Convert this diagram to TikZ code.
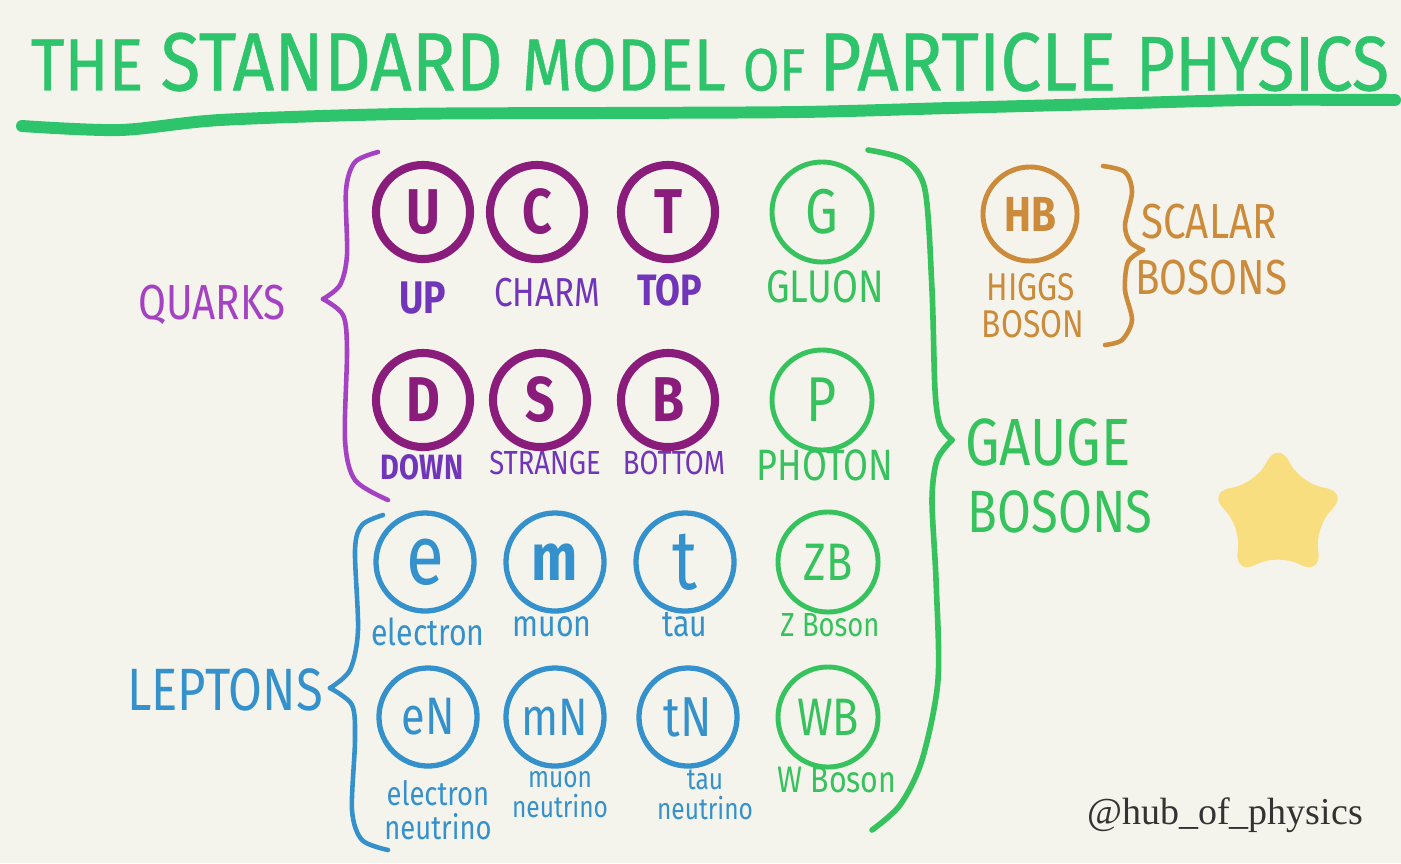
\documentclass[tikz,border=0pt]{standalone}
\usepackage{fontspec}
\newfontfamily\hand[FakeStretch=0.82]{Fira Sans}
\newfontfamily\titlehand[FakeStretch=0.88,FakeBold=0.6]{Fira Sans}
\newfontfamily\tagfont{Liberation Serif}
\usetikzlibrary{shapes.geometric,positioning}
\definecolor{paper}{HTML}{F5F4EC}
\definecolor{titlegreen}{HTML}{2EC46C}
\definecolor{gaugegreen}{HTML}{36C25C}
\definecolor{quarkring}{HTML}{8A1C7C}
\definecolor{quarklbl}{HTML}{7035B8}
\definecolor{quarkbrace}{HTML}{A542C4}
\definecolor{leptonblue}{HTML}{3491CC}
\definecolor{higgsorange}{HTML}{CB8B3A}
\definecolor{staryellow}{HTML}{F8DE7E}

\begin{document}
\begin{tikzpicture}[
  x=0.01cm, y=-0.01cm,
  quark/.style={draw=quarkring, line width=2.3pt, circle, minimum size=0.94cm, inner sep=0pt,
    text=quarkring, font=\hand\bfseries\fontsize{18}{18}\selectfont},
  lepton/.style={draw=leptonblue, line width=1.5pt, circle, minimum size=0.98cm, inner sep=0pt,
    text=leptonblue, font=\hand\fontsize{19}{19}\selectfont},
  gauge/.style={draw=gaugegreen, line width=1.4pt, circle, minimum size=1.0cm, inner sep=0pt,
    text=gaugegreen, font=\hand\fontsize{18}{18}\selectfont},
  qlbl/.style={text=quarklbl, font=\hand\fontsize{11.5}{11}\selectfont},
  llbl/.style={text=leptonblue, align=center, inner sep=1pt, font=\hand\fontsize{10.5}{10}\selectfont},
  glbl/.style={text=gaugegreen, font=\hand\fontsize{13}{13}\selectfont},
  hlbl/.style={text=higgsorange, align=center, inner sep=1pt, font=\hand\fontsize{11}{11}\selectfont},
  brace/.style={line width=1.3pt, line cap=round, line join=round}
]
\useasboundingbox (0,0) rectangle (1401,863);
\fill[paper] (0,0) rectangle (1401,863);

% title
\node[text=titlegreen, font=\titlehand] (title) at (710,62)
  {\fontsize{21}{20}\selectfont THE \fontsize{23.5}{20}\selectfont STANDARD
   \fontsize{21}{20}\selectfont MODEL \fontsize{17}{20}\selectfont OF
   \fontsize{23.5}{20}\selectfont PARTICLE \fontsize{22}{20}\selectfont PHYSICS};
\draw[titlegreen, line width=3.4pt, line cap=round] plot[smooth] coordinates
  {(22,126) (120,130) (220,120) (400,114) (600,113) (800,112) (950,108) (1100,104) (1250,100) (1395,100)};

% quarks
\node[quark] (up) at (423,212) {U};
\node[quark] (charm) at (537,212) {C};
\node[quark] (top) at (668,212) {T};
\node[quark] (down) at (423,400) {D};
\node[quark] (strange) at (540,400) {S};
\node[quark] (bottom) at (668,400) {B};
\node[qlbl, font=\hand\bfseries\fontsize{13}{13}\selectfont] at (423,298) {UP};
\node[qlbl] at (547,293) {CHARM};
\node[qlbl, font=\hand\bfseries\fontsize{12.5}{12}\selectfont] at (670,290) {TOP};
\node[qlbl, font=\hand\bfseries\fontsize{10}{10}\selectfont] at (422,467) {DOWN};
\node[qlbl, font=\hand\fontsize{9.5}{9}\selectfont] at (545,463) {STRANGE};
\node[qlbl, font=\hand\fontsize{9.5}{9}\selectfont] at (674,463) {BOTTOM};

% leptons
\node[lepton, font=\hand\fontsize{24}{24}\selectfont] (electron) at (425,562) {e};
\node[lepton, font=\hand\bfseries\fontsize{19}{19}\selectfont] (muon) at (555,562) {m};
\node[lepton, font=\hand\fontsize{24}{24}\selectfont] (tau) at (685,562) {t};
\node[lepton, font=\hand\fontsize{15}{15}\selectfont] (enu) at (428,717) {eN};
\node[lepton, font=\hand\fontsize{15}{15}\selectfont] (munu) at (555,717) {mN};
\node[lepton, font=\hand\fontsize{16}{16}\selectfont] (taunu) at (688,717) {tN};
\node[llbl] at (428,632) {electron};
\node[llbl] at (552,627) {muon};
\node[llbl] at (685,625) {tau};
\node[llbl, font=\hand\fontsize{9.5}{9.5}\selectfont] at (438,810) {electron\\neutrino};
\node[llbl, font=\hand\fontsize{8.5}{8.5}\selectfont] at (560,795) {muon\\neutrino};
\node[llbl, font=\hand\fontsize{8.5}{8.5}\selectfont] at (705,795) {tau\\neutrino};

% gauge bosons
\node[gauge] (gluon) at (822,212) {G};
\node[gauge] (photon) at (822,400) {P};
\node[gauge, font=\hand\fontsize{15}{15}\selectfont] (zboson) at (828,562) {ZB};
\node[gauge, font=\hand\fontsize{15}{15}\selectfont] (wboson) at (828,717) {WB};
\node[glbl] at (825,287) {GLUON};
\node[glbl, font=\hand\fontsize{12.5}{12}\selectfont] at (825,465) {PHOTON};
\node[glbl, font=\hand\fontsize{9.5}{9.5}\selectfont] at (830,625) {Z Boson};
\node[glbl, font=\hand\fontsize{10.5}{10.5}\selectfont] at (837,780) {W Boson};

% higgs
\node[draw=higgsorange, line width=1.4pt, circle, minimum size=0.94cm, inner sep=0pt,
  text=higgsorange, font=\hand\bfseries\fontsize{14}{14}\selectfont] (higgs) at (1030,214) {HB};
\node[hlbl] at (1031,287) {HIGGS};
\node[hlbl] at (1033,324) {BOSON};
\node[hlbl, font=\hand\fontsize{14}{14}\selectfont] (scalar) at (1209,222) {SCALAR};
\node[hlbl, font=\hand\fontsize{14}{14}\selectfont] (scalarb) at (1211,278) {BOSONS};

% group labels
\node[text=quarkbrace, font=\hand\fontsize{14}{14}\selectfont] (quarks) at (212,305) {QUARKS};
\node[text=leptonblue, font=\hand\fontsize{17}{17}\selectfont] (leptons) at (225,690) {LEPTONS};
\node[text=gaugegreen, font=\hand\fontsize{19}{19}\selectfont] (gauge) at (1048,442) {GAUGE};
\node[text=gaugegreen, font=\hand\fontsize{17}{17}\selectfont] (gaugeb) at (1060,512) {BOSONS};

% braces
\draw[brace, quarkbrace] plot[smooth] coordinates {(378,152) (355,162) (346,190) (347,255) (340,285) (323,299)};
\draw[brace, quarkbrace] plot[smooth] coordinates {(323,299) (343,315) (347,350) (345,440) (355,480) (388,500)};
\draw[brace, leptonblue] plot[smooth] coordinates {(383,515) (362,525) (355,550) (358,630) (350,670) (330,688)};
\draw[brace, leptonblue] plot[smooth] coordinates {(330,688) (352,705) (355,740) (352,810) (362,840) (388,850)};
\draw[brace, gaugegreen, line width=1.6pt] plot[smooth] coordinates
  {(868,150) (905,160) (925,190) (932,290) (935,390) (940,425) (952,440)};
\draw[brace, gaugegreen, line width=1.6pt] plot[smooth] coordinates
  {(952,440) (937,460) (932,500) (936,580) (938,680) (922,760) (900,805) (872,830)};
\draw[brace, higgsorange] plot[smooth] coordinates {(1103,166) (1125,172) (1132,192) (1125,225) (1130,242) (1143,250)};
\draw[brace, higgsorange] plot[smooth] coordinates {(1143,250) (1128,262) (1125,290) (1132,320) (1122,340) (1105,345)};

% star and tag
\node[star, star points=5, star point ratio=1.85, minimum size=1.46cm, inner sep=0pt,
  fill=staryellow, rounded corners=6pt] (goldstar) at (1278,515) {};
\node[text=black!80, font=\tagfont\fontsize{10.8}{11}\selectfont] (tag) at (1225,815) {@hub\_of\_physics};
\end{tikzpicture}
\end{document}
